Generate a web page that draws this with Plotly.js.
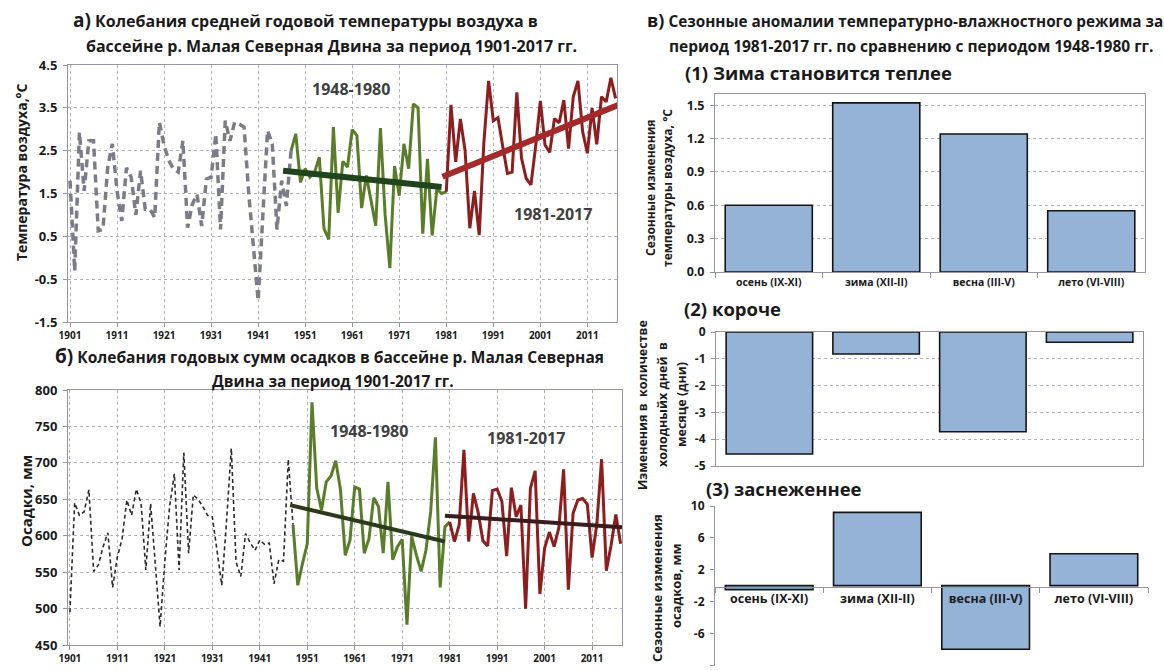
<!DOCTYPE html>
<html><head><meta charset="utf-8">
<script src="https://cdn.plot.ly/plotly-3.0.1.min.js"></script>
<style>html,body{margin:0;padding:0;background:#fff}#chart{width:1164px;height:670px}</style>
</head><body><div id="chart"></div><script>
// ---------- DATA ----------
// (a) annual mean air temperature, °C
const tempHistStart = 1901;   // 1901-1948 (grey dashed)
const tempHist = [1.8,-0.31,2.93,1.56,2.73,2.73,0.63,0.66,2.1,2.66,1.56,0.86,2.1,1.88,1.0,2.03,1.13,1.13,0.94,3.16,
  2.62,2.27,2.07,2.0,2.73,0.7,1.25,1.48,0.74,1.84,1.88,2.89,0.66,3.2,2.73,3.16,3.12,3.05,1.5,0.2,
  -1.0,1.0,2.97,2.66,0.66,1.8,1.21,2.5];
const tempGreenStart = 1948;  // 1948-1980
const tempGreen = [2.5,2.89,1.76,2.08,1.88,2.0,2.35,0.68,0.43,3.05,1.05,2.25,2.12,2.99,2.85,1.16,1.92,1.3,0.75,3.03,
  1.0,-0.24,2.14,1.45,2.66,2.08,3.59,3.5,0.56,2.31,0.52,1.61,1.5];
const tempRedStart = 1981;    // 1981-2017
const tempRed = [1.54,3.57,2.24,3.24,2.5,0.69,1.56,0.53,2.7,4.13,3.2,3.27,2.6,1.97,2.0,3.86,2.32,1.85,1.7,2.6,
  3.66,2.63,2.46,3.25,3.15,3.68,2.55,3.76,4.13,2.94,2.44,3.49,2.65,3.76,3.64,4.2,3.72];
const tempTrendGreenX = [1946.3, 1980.0], tempTrendGreenY = [2.03, 1.65];
const tempTrendRedX = [1980.2, 2017.9],   tempTrendRedY = [1.89, 3.58];

// (b) annual precipitation, mm
const precHist = [495,645,628,633,663,551,560,585,604,529,571,596,649,628,664,644,553,644,560,475,
  565,640,685,553,714,576,656,650,640,628,626,580,532,620,720,564,544,603,590,580,
  594,588,590,534,567,565,705,615];
const precGreen = [615,532,562,589,783,665,635,674,682,703,663,573,594,667,664,576,596,652,640,576,
  674,567,585,595,478,599,573,551,580,633,735,529,612];
const precRed = [619,592,615,718,592,658,632,593,586,662,664,647,572,666,626,642,500,665,689,520,
  583,605,585,611,691,526,631,649,651,643,570,616,705,552,587,629,589];
const precTrendGreenX = [1947.4, 1980.0], precTrendGreenY = [642, 592];
const precTrendRedX = [1980.0, 2017.8],   precTrendRedY = [627.5, 611.5];

const yearTicks = [1901,1911,1921,1931,1941,1951,1961,1971,1981,1991,2001,2011];
const tempTicks = [-1.5,-0.5,0.5,1.5,2.5,3.5,4.5];
const precTicks = [450,500,550,600,650,700,750,800];

// (в) seasonal anomalies 1981-2017 vs 1948-1980
const seasons = ['осень (IX-XI)','зима (XII-II)','весна (III-V)','лето (VI-VIII)'];
const seasTemp = [0.6, 1.52, 1.24, 0.55];
const seasColdDays = [-4.55, -0.82, -3.72, -0.38];
const seasPrec = [-0.5, 9.2, -8.0, 4.0];
const seasTempTicks = [0,0.3,0.6,0.9,1.2,1.5];
const seasDaysTicks = [-5,-4,-3,-2,-1,0];
const seasPrecTicks = [-10,-6,-2,2,6,10];

// ---------- HELPERS ----------
const W = 1164, H = 670;
const FONT = 'Open Sans';
const dx = (a,b) => [a/W, b/W];
const dy = (t,b) => [1-b/H, 1-t/H];
const years = (s,n) => Array.from({length:n}, (_,i) => s+i);
const GRID = '#b0b0c4', FRAME = '#9494a6', TXT = '#1a1a1a';

const traces = [];
// (a)
traces.push({x: years(tempHistStart,tempHist.length), y: tempHist, xaxis:'x', yaxis:'y', mode:'lines',
  line:{color:'#7c7c88', width:3.5, dash:'8px,5px'}});
traces.push({x: years(tempGreenStart,tempGreen.length).concat([tempRedStart]), y: tempGreen.concat([tempRed[0]]),
  xaxis:'x', yaxis:'y', mode:'lines', line:{color:'#5a7d2a', width:3}});
traces.push({x: years(tempRedStart,tempRed.length), y: tempRed, xaxis:'x', yaxis:'y', mode:'lines',
  line:{color:'#8e1d1d', width:3}});
traces.push({x: tempTrendGreenX, y: tempTrendGreenY, xaxis:'x', yaxis:'y', mode:'lines', cliponaxis:false,
  line:{color:'#20441c', width:6}});
traces.push({x: tempTrendRedX, y: tempTrendRedY, xaxis:'x', yaxis:'y', mode:'lines', cliponaxis:false,
  line:{color:'#a3292a', width:6}});
// (b)
traces.push({x: years(1901,precHist.length), y: precHist, xaxis:'x2', yaxis:'y2', mode:'lines',
  line:{color:'#2a2a2a', width:1.6, dash:'4px,3px'}});
traces.push({x: years(1948,precGreen.length).concat([1981]), y: precGreen.concat([precRed[0]]),
  xaxis:'x2', yaxis:'y2', mode:'lines', line:{color:'#5a7d2a', width:3}});
traces.push({x: years(1981,precRed.length), y: precRed, xaxis:'x2', yaxis:'y2', mode:'lines',
  line:{color:'#8e1d1d', width:3}});
traces.push({x: precTrendGreenX, y: precTrendGreenY, xaxis:'x2', yaxis:'y2', mode:'lines', cliponaxis:false,
  line:{color:'#2a3a1b', width:4}});
traces.push({x: precTrendRedX, y: precTrendRedY, xaxis:'x2', yaxis:'y2', mode:'lines', cliponaxis:false,
  line:{color:'#3a1c1c', width:4}});
// (в)
const barStyle = {color:'#95b3d7', line:{color:'#151515', width:1.6}};
traces.push({type:'bar', x: seasons, y: seasTemp, xaxis:'x3', yaxis:'y3', marker: barStyle});
traces.push({type:'bar', x: seasons, y: seasColdDays, xaxis:'x4', yaxis:'y4', marker: barStyle});
traces.push({type:'bar', x: seasons, y: seasPrec, xaxis:'x5', yaxis:'y5', marker: barStyle});

const tf = (s) => ({family: FONT, size: s, color: TXT, weight: 700});
const lineAxis = {showline:true, mirror:true, linecolor:FRAME, linewidth:1, ticks:'outside', ticklen:4,
  tickcolor:FRAME, zeroline:false, fixedrange:true};

const layout = {
  width: W, height: H, margin:{l:0,r:0,t:0,b:0}, showlegend:false,
  paper_bgcolor:'#fff', plot_bgcolor:'#fff', bargap:0.19,
  font:{family: FONT, color: TXT},
  xaxis: Object.assign({}, lineAxis, {domain: dx(68,617), anchor:'y', range:[1900.57, 2017.3],
    tickvals: yearTicks, ticktext: yearTicks.map(String), tickfont: tf(10),
    showgrid:true, gridcolor:GRID, griddash:'dot', gridwidth:1}),
  yaxis: Object.assign({}, lineAxis, {domain: dy(65,322), anchor:'x', range:[-1.5,4.5],
    tickvals: tempTicks, ticktext: tempTicks.map(v=>v.toFixed(1)), tickfont: tf(13), ticklabelstandoff:3,
    showgrid:true, gridcolor:GRID, griddash:'dot', gridwidth:1}),
  xaxis2: Object.assign({}, lineAxis, {domain: dx(68,622), anchor:'y2', range:[1900.6, 2017.3],
    tickvals: yearTicks, ticktext: yearTicks.map(String), tickfont: tf(10),
    showgrid:true, gridcolor:GRID, griddash:'dot', gridwidth:1}),
  yaxis2: Object.assign({}, lineAxis, {domain: dy(390,645), anchor:'x2', range:[450,800],
    tickvals: precTicks, ticktext: precTicks.map(String), tickfont: tf(13), ticklabelstandoff:3,
    showgrid:true, gridcolor:GRID, griddash:'dot', gridwidth:1}),
  xaxis3: Object.assign({}, lineAxis, {domain: dx(715,1145), anchor:'y3', type:'category',
    tickson:'boundaries', ticklen:5, tickfont: tf(10.5), showgrid:false}),
  yaxis3: Object.assign({}, lineAxis, {domain: dy(94,272), anchor:'x3', range:[0,1.6],
    tickvals: seasTempTicks, ticktext: seasTempTicks.map(v=>v.toFixed(1)), tickfont: tf(12.5), ticklabelstandoff:3,
    showgrid:true, gridcolor:GRID, griddash:'dot', gridwidth:1}),
  xaxis4: Object.assign({}, lineAxis, {domain: dx(716,1143), anchor:'y4', type:'category',
    showticklabels:false, ticks:'', showgrid:false}),
  yaxis4: Object.assign({}, lineAxis, {domain: dy(332,466), anchor:'x4', range:[-5,0],
    tickvals: seasDaysTicks, ticktext: seasDaysTicks.map(String), tickfont: tf(12), ticklabelstandoff:3,
    showgrid:true, gridcolor:GRID, griddash:'dot', gridwidth:1}),
  xaxis5: Object.assign({}, lineAxis, {domain: dx(715,1148), anchor:'free', position: 1-587/H, type:'category',
    mirror:false, tickson:'boundaries', ticklen:5, tickfont: tf(12.5), showgrid:false}),
  yaxis5: Object.assign({}, lineAxis, {domain: dy(506,666), anchor:'x5', range:[-10.1,10], mirror:false,
    tickvals: seasPrecTicks, ticktext: seasPrecTicks.map(String), tickfont: tf(12), ticklabelstandoff:3,
    showgrid:false}),
  annotations: []
};

function ann(text, px, py, size, opts) {
  layout.annotations.push(Object.assign({text: text, xref:'paper', yref:'paper', x: px/W, y: 1-py/H,
    xanchor:'center', yanchor:'middle', showarrow:false,
    font:{family: FONT, size: size, color: TXT, weight: 700}}, opts||{}));
}
// titles
ann('<span style="font-size:19px">а)</span> Колебания средней годовой температуры воздуха в', 305, 20, 16);
ann('бассейне р. Малая Северная Двина за период 1901-2017 гг.', 331, 46, 16);
ann('<span style="font-size:19px">б)</span> Колебания годовых сумм осадков в бассейне р. Малая Северная', 329, 356, 15.5);
ann('Двина за период 1901-2017 гг.', 333, 381, 15.5);
ann('<span style="font-size:18px">в)</span> Сезонные аномалии температурно-влажностного режима за', 905, 20, 15.3);
ann('период 1981-2017 гг. по сравнению с периодом 1948-1980 гг.', 911, 46, 15.5);
ann('(1) Зима становится теплее', 683, 73, 18.5, {xanchor:'left'});
ann('(2) короче', 682, 308, 18.5, {xanchor:'left'});
ann('(3) заснеженнее', 704, 488, 18.5, {xanchor:'left'});
// period labels
const perFont = {family:FONT, size:16, color:'#404040', weight:700};
ann('1948-1980', 351, 89, 16, {font: perFont});
ann('1981-2017', 553, 214, 16, {font: perFont});
ann('1948-1980', 369, 431, 16, {font: perFont});
ann('1981-2017', 526, 438, 16, {font: perFont});
// axis titles
ann('Температура воздуха,°С', 21, 172, 14, {textangle:-90});
ann('Осадки, мм', 26, 501, 15, {textangle:-90});
ann('Сезонные изменения', 650, 188, 12, {textangle:-90});
ann('температуры воздуха, °С', 667, 188, 12, {textangle:-90});
ann('Изменения в  количестве', 642, 405, 12.5, {textangle:-90});
ann('холодныйх дней  в', 662, 405, 12.5, {textangle:-90});
ann('месяце (дни)', 681, 405, 12.5, {textangle:-90});
ann('Сезонные изменения', 657, 588, 13, {textangle:-90});
ann('осадков, мм', 676, 586, 13, {textangle:-90});

Plotly.newPlot('chart', traces, layout, {staticPlot:true, displayModeBar:false});
</script></body></html>
